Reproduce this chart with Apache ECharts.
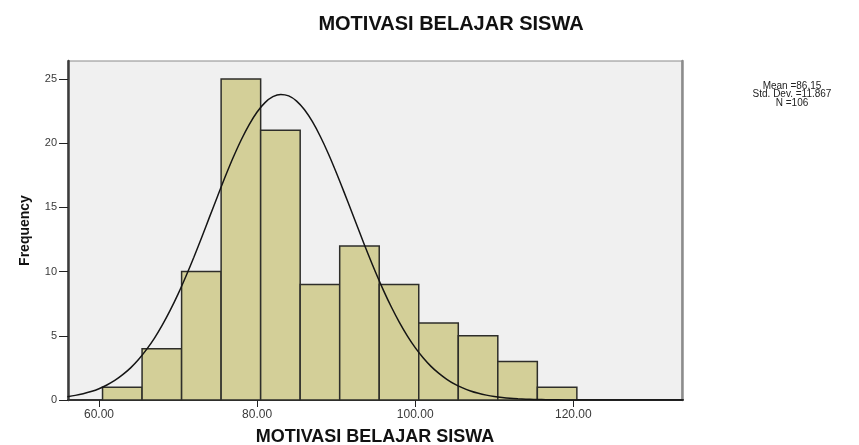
<!DOCTYPE html>
<html lang="en">
<head>
    <meta charset="UTF-8">
    <title>Motivasi Belajar Siswa</title>
    <script src="https://cdn.jsdelivr.net/npm/echarts/dist/echarts.min.js"></script>
    <style>
        body { margin: 0; background: #ffffff; }
        #main { width: 859px; height: 445px; }
    </style>
</head>
<body>
    <div id="main"></div>
    <script>
        // histogram bins (lower edge, as drawn) and frequencies
        var binStarts = [60.45, 65.45, 70.45, 75.45, 80.45, 85.45, 90.45, 95.45, 100.45, 105.45, 110.45, 115.45];
        var binWidth = 5;
        var counts = [1, 4, 10, 25, 21, 9, 12, 9, 6, 5, 3, 1];

        // normal curve
        var curveX = [56, 57, 58, 59, 60, 61, 62, 63, 64, 65, 66, 67, 68, 69, 70, 71, 72, 73, 74, 75,
                      76, 77, 78, 79, 80, 81, 82, 83, 84, 85, 86, 87, 88, 89, 90, 91, 92, 93, 94, 95,
                      96, 97, 98, 99, 100, 101, 102, 103, 104, 105, 106, 107, 108, 109, 110, 111, 112,
                      113, 114, 115, 116, 117, 118, 120, 134];
        var curveY = [0.26, 0.36, 0.49, 0.66, 0.88, 1.17, 1.52, 1.97, 2.5, 3.15, 3.92, 4.8, 5.83, 6.98,
                      8.25, 9.64, 11.12, 12.68, 14.28, 15.87, 17.44, 18.92, 20.27, 21.45, 22.43, 23.16,
                      23.62, 23.8, 23.68, 23.28, 22.6, 21.67, 20.52, 19.2, 17.74, 16.19, 14.6, 13.0,
                      11.43, 9.93, 8.52, 7.22, 6.05, 5.0, 4.08, 3.29, 2.62, 2.07, 1.61, 1.23, 0.94, 0.7,
                      0.52, 0.38, 0.27, 0.19, 0.13, 0.09, 0.06, 0.04, 0.03, 0.02, 0.01, 0, 0];

        var xTicks = [60, 80, 100, 120];
        var yTicks = [0, 5, 10, 15, 20, 25];
        var statLines = ['Mean =86.15', 'Std. Dev. =11.867', 'N =106'];

        var titleText = 'MOTIVASI BELAJAR SISWA';
        var xName = 'MOTIVASI BELAJAR SISWA';
        var yName = 'Frequency';

        var font = "'Liberation Sans', Arial, sans-serif";

        var barData = binStarts.map(function (s, i) { return [s, s + binWidth, counts[i]]; });
        var curveData = curveX.map(function (x, i) { return [x, curveY[i]]; });

        var chart = echarts.init(document.getElementById('main'));

        var option = {
            animation: false,
            backgroundColor: '#ffffff',
            title: {
                text: titleText,
                left: 446,
                top: 9,
                textAlign: 'center',
                textStyle: { fontFamily: font, fontWeight: 'bold', fontSize: 20, color: '#111111' }
            },
            grid: {
                left: 68, top: 61, right: 177, bottom: 45,
                outerBoundsMode: 'none',
                containLabel: false,
                show: true,
                backgroundColor: '#f0f0f0',
                borderColor: '#8a8a8a',
                borderWidth: 1
            },
            xAxis: {
                type: 'value',
                min: 56.08,
                max: 133.75,
                name: xName,
                nameLocation: 'middle',
                nameGap: 28,
                nameTextStyle: { fontFamily: font, fontWeight: 'bold', fontSize: 18, color: '#111111' },
                axisLine: { lineStyle: { color: '#333333', width: 2 } },
                axisTick: { customValues: xTicks, length: 7, lineStyle: { color: '#222222' } },
                axisLabel: {
                    customValues: xTicks,
                    margin: 9,
                    fontFamily: font, fontSize: 12, color: '#3a3a3a',
                    formatter: function (v) { return v.toFixed(2); }
                },
                splitLine: { show: false }
            },
            yAxis: [{
                type: 'value',
                min: 0,
                max: 26.4,
                name: yName,
                nameLocation: 'middle',
                nameRotate: 90,
                nameGap: 36,
                nameTextStyle: { fontFamily: font, fontWeight: 'bold', fontSize: 14, color: '#111111' },
                axisLine: { show: true, lineStyle: { color: '#3c3c3c', width: 2.5 } },
                axisTick: { customValues: yTicks, length: 9, lineStyle: { color: '#222222' } },
                axisLabel: { customValues: yTicks, margin: 11, fontFamily: font, fontSize: 11, color: '#3a3a3a' },
                splitLine: { show: false }
            }, {
                type: 'value',
                position: 'right',
                min: 0,
                max: 26.4,
                axisLine: { show: true, lineStyle: { color: '#8c8c8c', width: 2.5 } },
                axisTick: { show: false },
                axisLabel: { show: false },
                splitLine: { show: false }
            }],
            graphic: statLines.map(function (t, i) {
                return {
                    type: 'text',
                    x: 792,
                    y: 86 + i * 8.4,
                    style: {
                        text: t,
                        align: 'center',
                        verticalAlign: 'middle',
                        font: '10px ' + font,
                        fill: '#222222'
                    }
                };
            }),
            series: [{
                type: 'custom',
                data: barData,
                encode: { x: [0, 1], y: 2 },
                renderItem: function (params, api) {
                    var p0 = api.coord([api.value(0), api.value(2)]);
                    var p1 = api.coord([api.value(1), 0]);
                    return {
                        type: 'rect',
                        shape: { x: p0[0], y: p0[1], width: p1[0] - p0[0], height: p1[1] - p0[1] },
                        style: { fill: '#d3cf98', stroke: '#2e2e2a', lineWidth: 1.5 }
                    };
                },
                z: 2
            }, {
                type: 'line',
                data: curveData,
                smooth: 0.3,
                symbol: 'none',
                lineStyle: { color: '#151515', width: 1.5 },
                z: 3
            }]
        };

        chart.setOption(option);
    </script>
</body>
</html>
